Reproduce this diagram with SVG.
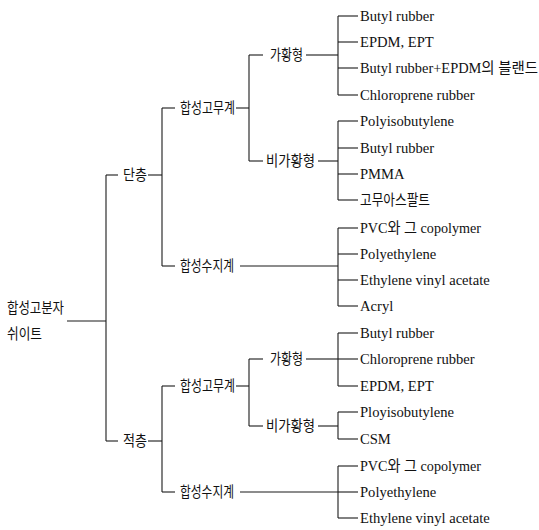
<svg xmlns="http://www.w3.org/2000/svg" width="539" height="530" viewBox="0 0 539 530">
<style>
.bg{fill:#ffffff}
.c line{stroke:#1a1a1a;stroke-width:1.1;fill:none}
.k{font-family:"Noto Sans CJK KR",sans-serif;font-size:15px;fill:#111}
.e{font-family:"Liberation Serif","Noto Sans CJK KR",serif;font-size:14.6px;fill:#111}
</style>
<rect class="bg" x="0" y="0" width="539" height="530"/>
<g id="connectors" class="c">
<line x1="67" y1="321" x2="106" y2="321"/>
<line x1="106" y1="175" x2="106" y2="441"/>
<line x1="106" y1="175" x2="118" y2="175"/>
<line x1="106" y1="441" x2="118" y2="441"/>
<line x1="148" y1="175" x2="162" y2="175"/>
<line x1="148" y1="441" x2="162" y2="441"/>
<line x1="162" y1="108" x2="162" y2="266"/>
<line x1="162" y1="108" x2="175" y2="108"/>
<line x1="162" y1="266" x2="175" y2="266"/>
<line x1="236" y1="108" x2="249" y2="108"/>
<line x1="249" y1="55" x2="249" y2="161"/>
<line x1="249" y1="55" x2="263" y2="55"/>
<line x1="249" y1="161" x2="263" y2="161"/>
<line x1="306" y1="55" x2="338" y2="55"/>
<line x1="318" y1="161" x2="338" y2="161"/>
<line x1="338" y1="16" x2="338" y2="95"/>
<line x1="338" y1="16" x2="358" y2="16"/>
<line x1="338" y1="42" x2="358" y2="42"/>
<line x1="338" y1="68" x2="358" y2="68"/>
<line x1="338" y1="95" x2="358" y2="95"/>
<line x1="338" y1="121" x2="338" y2="200"/>
<line x1="338" y1="121" x2="358" y2="121"/>
<line x1="338" y1="148" x2="358" y2="148"/>
<line x1="338" y1="174" x2="358" y2="174"/>
<line x1="338" y1="200" x2="358" y2="200"/>
<line x1="240" y1="266" x2="338" y2="266"/>
<line x1="338" y1="228" x2="338" y2="306"/>
<line x1="338" y1="228" x2="358" y2="228"/>
<line x1="338" y1="254" x2="358" y2="254"/>
<line x1="338" y1="280" x2="358" y2="280"/>
<line x1="338" y1="306" x2="358" y2="306"/>
<line x1="162" y1="386" x2="162" y2="492"/>
<line x1="162" y1="386" x2="175" y2="386"/>
<line x1="162" y1="492" x2="175" y2="492"/>
<line x1="236" y1="386" x2="249" y2="386"/>
<line x1="249" y1="359" x2="249" y2="426"/>
<line x1="249" y1="359" x2="263" y2="359"/>
<line x1="249" y1="426" x2="263" y2="426"/>
<line x1="306" y1="359" x2="338" y2="359"/>
<line x1="338" y1="333" x2="338" y2="386"/>
<line x1="338" y1="333" x2="358" y2="333"/>
<line x1="338" y1="359" x2="358" y2="359"/>
<line x1="338" y1="386" x2="358" y2="386"/>
<line x1="318" y1="426" x2="338" y2="426"/>
<line x1="338" y1="412" x2="338" y2="439"/>
<line x1="338" y1="412" x2="358" y2="412"/>
<line x1="338" y1="439" x2="358" y2="439"/>
<line x1="240" y1="492" x2="338" y2="492"/>
<line x1="338" y1="466" x2="338" y2="518"/>
<line x1="338" y1="466" x2="358" y2="466"/>
<line x1="338" y1="492" x2="358" y2="492"/>
<line x1="338" y1="518" x2="358" y2="518"/>
</g>
<g id="root">
<text class="k" x="7" y="313" textLength="57" lengthAdjust="spacingAndGlyphs">합성고분자</text>
<text class="k" x="7" y="339" textLength="35" lengthAdjust="spacingAndGlyphs">쉬이트</text>
</g>
<g id="n-dancheung"><text class="k" x="123" y="180" textLength="24" lengthAdjust="spacingAndGlyphs">단층</text></g>
<g id="n-jeokcheung"><text class="k" x="123" y="446" textLength="24" lengthAdjust="spacingAndGlyphs">적층</text></g>
<g id="n-rubber1"><text class="k" x="180" y="113" textLength="55" lengthAdjust="spacingAndGlyphs">합성고무계</text></g>
<g id="n-resin1"><text class="k" x="180" y="271" textLength="54" lengthAdjust="spacingAndGlyphs">합성수지계</text></g>
<g id="n-rubber2"><text class="k" x="180" y="391" textLength="55" lengthAdjust="spacingAndGlyphs">합성고무계</text></g>
<g id="n-resin2"><text class="k" x="180" y="497" textLength="54" lengthAdjust="spacingAndGlyphs">합성수지계</text></g>
<g id="n-vulc1"><text class="k" x="270" y="60" textLength="33" lengthAdjust="spacingAndGlyphs">가황형</text></g>
<g id="n-nonvulc1"><text class="k" x="266" y="166" textLength="49" lengthAdjust="spacingAndGlyphs">비가황형</text></g>
<g id="n-vulc2"><text class="k" x="270" y="364" textLength="33" lengthAdjust="spacingAndGlyphs">가황형</text></g>
<g id="n-nonvulc2"><text class="k" x="266" y="431" textLength="49" lengthAdjust="spacingAndGlyphs">비가황형</text></g>
<g id="leaves1">
<text class="e" x="360" y="21">Butyl rubber</text>
<text class="e" x="360" y="47">EPDM, EPT</text>
<text class="e" x="360" y="73" textLength="178" lengthAdjust="spacingAndGlyphs">Butyl rubber+EPDM의 블랜드</text>
<text class="e" x="360" y="100">Chloroprene rubber</text>
</g>
<g id="leaves2">
<text class="e" x="360" y="126">Polyisobutylene</text>
<text class="e" x="360" y="153">Butyl rubber</text>
<text class="e" x="360" y="179">PMMA</text>
<text class="k" x="360" y="205" textLength="70" lengthAdjust="spacingAndGlyphs">고무아스팔트</text>
</g>
<g id="leaves3">
<text class="e" x="360" y="233" textLength="121" lengthAdjust="spacingAndGlyphs">PVC와 그 copolymer</text>
<text class="e" x="360" y="259">Polyethylene</text>
<text class="e" x="360" y="285">Ethylene vinyl acetate</text>
<text class="e" x="360" y="311">Acryl</text>
</g>
<g id="leaves4">
<text class="e" x="360" y="338">Butyl rubber</text>
<text class="e" x="360" y="364">Chloroprene rubber</text>
<text class="e" x="360" y="391">EPDM, EPT</text>
</g>
<g id="leaves5">
<text class="e" x="360" y="417">Ployisobutylene</text>
<text class="e" x="360" y="444">CSM</text>
</g>
<g id="leaves6">
<text class="e" x="360" y="471" textLength="121" lengthAdjust="spacingAndGlyphs">PVC와 그 copolymer</text>
<text class="e" x="360" y="497">Polyethylene</text>
<text class="e" x="360" y="523">Ethylene vinyl acetate</text>
</g>
</svg>
